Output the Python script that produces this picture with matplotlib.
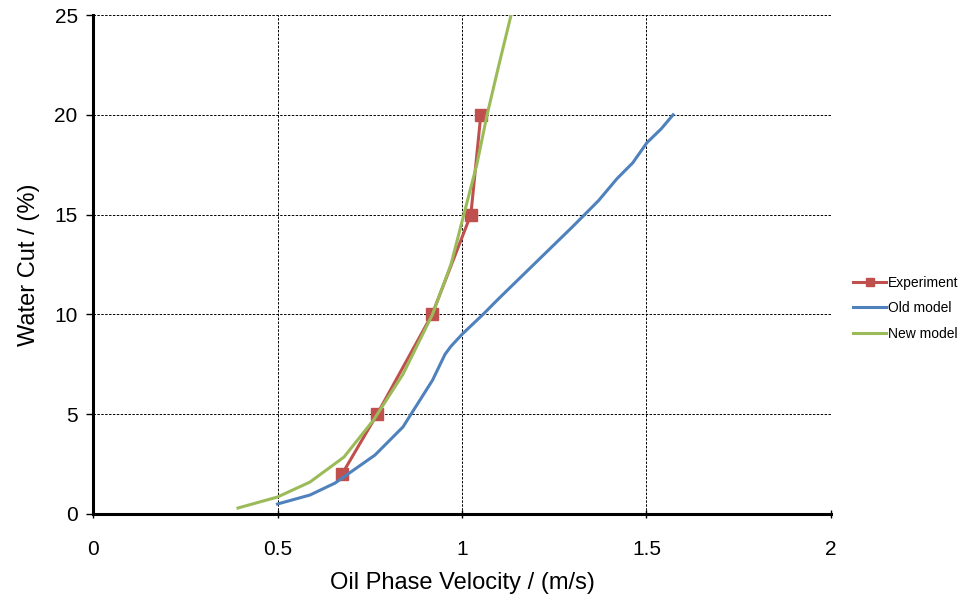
import matplotlib.pyplot as plt

plt.rcParams['font.family'] = ['Liberation Sans', 'DejaVu Sans']

# Experiment
exp_v = [0.675, 0.77, 0.919, 1.024, 1.051]
exp_w = [2, 5, 10, 15, 20]

# Old model
old_v = [0.5, 0.588, 0.656, 0.764, 0.84, 0.92, 0.954, 0.97, 1.0, 1.057, 1.1, 1.2, 1.3,
         1.37, 1.42, 1.463, 1.501, 1.54, 1.572]
old_w = [0.5, 0.95, 1.55, 2.95, 4.36, 6.7, 8.0, 8.4, 9.0, 10.0, 10.8, 12.6, 14.4,
         15.7, 16.8, 17.6, 18.6, 19.3, 20.0]

# New model
new_v = [0.393, 0.5, 0.588, 0.68, 0.76, 0.84, 0.92, 0.97, 1.005, 1.04, 1.068, 1.1, 1.133]
new_w = [0.3, 0.85, 1.6, 2.85, 4.7, 7.0, 10.0, 12.5, 15.0, 17.5, 20.0, 22.5, 25.0]

fig = plt.figure(figsize=(9.61, 6.01), dpi=100)
ax = fig.add_axes([0.0968, 0.1448, 0.7679, 0.8302])

ax.plot(exp_v, exp_w, '-s', color='#C0504D', lw=2.2, ms=8, label='Experiment')
ax.plot(old_v, old_w, '-', color='#4F81BD', lw=2.2, label='Old model')
ax.plot(new_v, new_w, '-', color='#9BBB59', lw=2.2, label='New model')

ax.set_xlim(0, 2)
ax.set_ylim(0, 25)
ax.set_xticks([0, 0.5, 1, 1.5, 2])
ax.set_xticklabels(['0', '0.5', '1', '1.5', '2'])
ax.set_yticks([0, 5, 10, 15, 20, 25])
ax.grid(True, color='black', linestyle=(0, (2.5, 1.5)), linewidth=0.7)

for s in ['top', 'right']:
    ax.spines[s].set_visible(False)
for s in ['left', 'bottom']:
    ax.spines[s].set_linewidth(2.2)
ax.tick_params(axis='y', direction='out', length=5, width=1, labelsize=15, pad=6)
ax.tick_params(axis='x', direction='inout', length=6, width=1, labelsize=15, pad=16)

ax.set_xlabel('Oil Phase Velocity / (m/s)', fontsize=17, labelpad=9)
ax.set_ylabel('Water Cut / (%)', fontsize=17, labelpad=10)

fig.legend(loc='center left', bbox_to_anchor=(0.882, 0.487), frameon=False,
           fontsize=10, handlelength=2.4, handletextpad=0.1, labelspacing=0.85,
           borderaxespad=0, markerscale=0.8)

fig.savefig('out.png', dpi=100)
